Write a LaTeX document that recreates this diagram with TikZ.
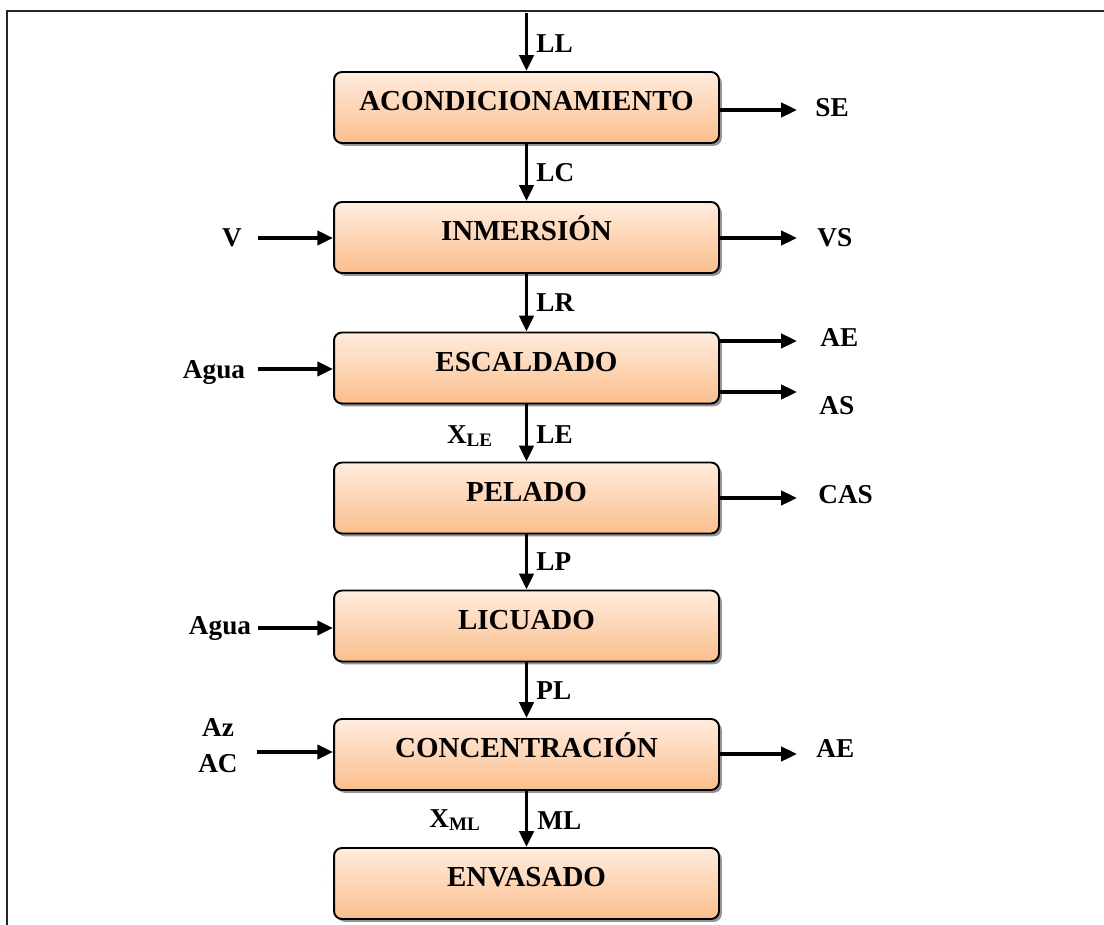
\documentclass[tikz,border=0pt]{standalone}
\usepackage{fontspec}
\setmainfont{Liberation Serif}
\usetikzlibrary{arrows.meta,shadows}
\definecolor{boxtop}{RGB}{255,236,222}
\definecolor{boxbot}{RGB}{251,190,140}
\begin{document}
\begin{tikzpicture}[x=0.02cm,y=-0.02cm,
  procbox/.style={draw=black, line width=1.1pt, rounded corners=4.5pt,
    top color=boxtop, bottom color=boxbot,
    minimum width=7.7cm, minimum height=1.42cm, inner sep=0pt,
    text height=10.9pt, text depth=7.4pt,
    font=\fontsize{16.5}{20}\selectfont\bfseries,
    drop shadow={shadow xshift=1.6pt, shadow yshift=-1.6pt, fill=black!60, opacity=0.7}},
  lbl/.style={inner sep=0pt, text height=10.3pt, text depth=0pt,
    font=\fontsize{15.5}{18}\selectfont\bfseries},
  flow/.style={line width=2.1pt, -{Triangle[length=9pt,width=8pt]}},
  frameline/.style={line width=1.3pt, draw=black!85}]
\useasboundingbox (0,0) rectangle (1104,925);

% open frame: top and left rules
\draw[frameline] (1104,11) -- (7,11) -- (7,925);

% process steps
\node[procbox] (acond) at (526.5,107.5) {ACONDICIONAMIENTO};
\node[procbox] (inm)   at (526.5,237.5) {INMERSIÓN};
\node[procbox] (esc)   at (526.5,368)   {ESCALDADO};
\node[procbox] (pel)   at (526.5,498)   {PELADO};
\node[procbox] (lic)   at (526.5,626)   {LICUADO};
\node[procbox] (conc)  at (526.5,754.5) {CONCENTRACIÓN};
\node[procbox] (env)   at (526.5,883.5) {ENVASADO};

% main line
\coordinate (feed) at (526.5,13);
\draw[flow] (feed) -- (acond.north);
\draw[flow] (acond.south) -- (inm.north);
\draw[flow] (inm.south) -- (esc.north);
\draw[flow] (esc.south) -- (pel.north);
\draw[flow] (pel.south) -- (lic.north);
\draw[flow] (lic.south) -- (conc.north);
\draw[flow] (conc.south) -- (env.north);

\node[lbl, anchor=west] (tLL) at (536,43)  {LL};
\node[lbl, anchor=west] (tLC) at (536,172) {LC};
\node[lbl, anchor=west] (tLR) at (536,302) {LR};
\node[lbl, anchor=west] (tLE) at (536,434) {LE};
\node[lbl, anchor=west] (tLP) at (536,561) {LP};
\node[lbl, anchor=west] (tPL) at (536,690) {PL};
\node[lbl, anchor=west] (tML) at (537,820) {ML};
\node[lbl] (tXLE) at (470,434) {X\textsubscript{LE}};
\node[lbl] (tXML) at (455,818) {X\textsubscript{ML}};

% outlets
\coordinate (seOut)  at (797,110);
\coordinate (vsOut)  at (797,238);
\coordinate (aeOut)  at (797,341);
\coordinate (asOut)  at (797,392);
\coordinate (casOut) at (797,498);
\coordinate (aeOutB) at (797,754);
\draw[flow] (acond.east |- seOut) -- (seOut);
\draw[flow] (inm.east |- vsOut) -- (vsOut);
\draw[flow] (esc.east |- aeOut) -- (aeOut);
\draw[flow] (esc.east |- asOut) -- (asOut);
\draw[flow] (pel.east |- casOut) -- (casOut);
\draw[flow] (conc.east |- aeOutB) -- (aeOutB);

\node[lbl, anchor=west] (tSE)  at (815,107) {SE};
\node[lbl, anchor=west] (tVS)  at (817,237) {VS};
\node[lbl, anchor=west] (tAE)  at (820,337) {AE};
\node[lbl, anchor=west] (tAS)  at (819,405) {AS};
\node[lbl, anchor=west] (tCAS) at (818,494) {CAS};
\node[lbl, anchor=west] (tAEB) at (816,748) {AE};

% inlets
\coordinate (vIn)     at (258,238);
\coordinate (aguaIn)  at (258,369);
\coordinate (aguaInB) at (258,628);
\coordinate (azIn)    at (257,752);
\draw[flow] (vIn) -- (inm.west |- vIn);
\draw[flow] (aguaIn) -- (esc.west |- aguaIn);
\draw[flow] (aguaInB) -- (lic.west |- aguaInB);
\draw[flow] (azIn) -- (conc.west |- azIn);

\node[lbl] (tV)     at (232,237) {V};
\node[lbl] (tAgua)  at (214,369) {Agua};
\node[lbl] (tAguaB) at (220,625) {Agua};
\node[lbl] (tAz)    at (218,727) {Az};
\node[lbl] (tAC)    at (218,763) {AC};
\end{tikzpicture}
\end{document}
